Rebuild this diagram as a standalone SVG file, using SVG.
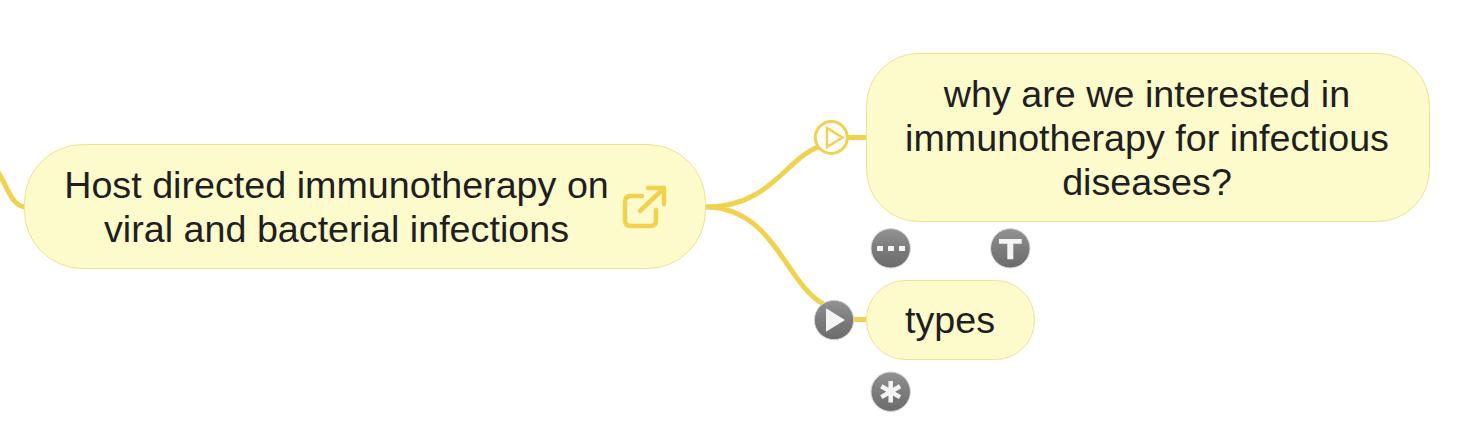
<svg xmlns="http://www.w3.org/2000/svg" width="1474" height="444" viewBox="0 0 1474 444">
<defs>
<linearGradient id="g" x1="0" y1="0" x2="0" y2="1"><stop offset="0" stop-color="#939393"/><stop offset="0.5" stop-color="#7c7c7c"/><stop offset="1" stop-color="#6c6c6c"/></linearGradient>
</defs>
<style>
.n{fill:#fdfacb;stroke:#f0e193;stroke-width:1}
.t{font-family:"Liberation Sans",Arial,sans-serif;font-size:37.700px;fill:#1f1f1f;text-anchor:middle}
.c{fill:none;stroke:#f0d24f;stroke-width:5;stroke-linecap:butt}
.b{fill:url(#g);stroke:#d8d8d8;stroke-width:1}
.w{fill:#f4f4f4}
</style>
<rect width="1474" height="444" fill="#fff"/>
<g id="connectors">
<path class="c" d="M-2 172C8 188 12 206 25 207"/>
<path class="c" d="M705 207C770 207 785 160 818 147"/>
<path class="c" d="M705 207C775 207 785 285 825 305"/>
<path class="c" d="M846 137.500H867"/>
<path class="c" d="M852 319.500H867"/>
</g>
<g id="node-host">
<rect class="n" x="24.500" y="144.500" width="681" height="124" rx="58"/>
<text class="t" x="336.500" y="198">Host directed immunotherapy on</text>
<text class="t" x="336.500" y="242">viral and bacterial infections</text>
<g fill="none" stroke="#f0d24f" stroke-width="4.500" stroke-linecap="round" stroke-linejoin="round">
<path d="M642 196H631Q625 196 625 202V220Q625 226 631 226H651Q656 226 656 220V210"/>
<path d="M640 211L663 189M648 188H664V204"/>
</g>
</g>
<g id="node-why">
<rect class="n" x="866.500" y="53.500" width="563" height="168" rx="52"/>
<text class="t" x="1147" y="107">why are we interested in</text>
<text class="t" x="1147" y="151">immunotherapy for infectious</text>
<text class="t" x="1147" y="195">diseases?</text>
</g>
<g id="node-types">
<rect class="n" x="866.500" y="280.500" width="168" height="79" rx="39"/>
<text class="t" x="950" y="333">types</text>
</g>
<g id="icon-play-outline">
<circle cx="831.300" cy="137.500" r="16" fill="#fff" stroke="#f0d24f" stroke-width="3"/>
<path d="M827 128L842.500 137.500L827 147Z" fill="none" stroke="#f0d24f" stroke-width="2.500"/>
</g>
<g id="icon-play">
<circle class="b" cx="834" cy="320" r="19.700"/>
<path class="w" d="M826 308.300L845 320L826 331.700Z"/>
</g>
<g id="icon-dots">
<circle class="b" cx="890.700" cy="248.300" r="19.700"/>
<path class="w" d="M877 246h6v5h-6zM888 246h6v5h-6zM899 246h6v5h-6z"/>
</g>
<g id="icon-t">
<circle class="b" cx="1010.300" cy="248.300" r="19.700"/>
<path class="w" d="M999 239H1021.700V243.700H1013.300V259.300H1007.300V243.700H999Z"/>
</g>
<g id="icon-asterisk">
<circle class="b" cx="890.700" cy="391.700" r="19.700"/>
<path d="M890.700 381V402.500M881.300 386.300L900.100 397.100M881.300 397.100L900.100 386.300" stroke="#f4f4f4" stroke-width="4.500" fill="none"/>
</g>
</svg>
